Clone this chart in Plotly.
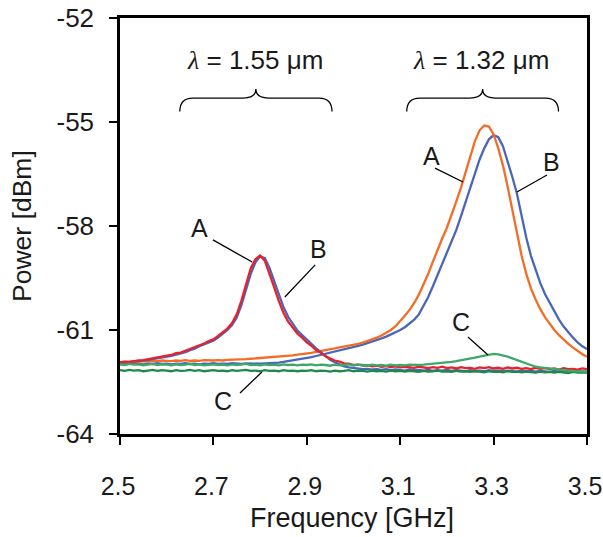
import plotly.graph_objects as go

# ---------------- data ----------------
freq_ghz = [
    2.50, 2.51, 2.52, 2.53, 2.54, 2.55, 2.56, 2.57, 2.58, 2.59,
    2.60, 2.61, 2.62, 2.63, 2.64, 2.65, 2.66, 2.67, 2.68, 2.69,
    2.70, 2.71, 2.72, 2.73, 2.74, 2.75, 2.76, 2.77, 2.78, 2.79,
    2.80, 2.81, 2.82, 2.83, 2.84, 2.85, 2.86, 2.87, 2.88, 2.89,
    2.90, 2.91, 2.92, 2.93, 2.94, 2.95, 2.96, 2.97, 2.98, 2.99,
    3.00, 3.01, 3.02, 3.03, 3.04, 3.05, 3.06, 3.07, 3.08, 3.09,
    3.10, 3.11, 3.12, 3.13, 3.14, 3.15, 3.16, 3.17, 3.18, 3.19,
    3.20, 3.21, 3.22, 3.23, 3.24, 3.25, 3.26, 3.27, 3.28, 3.29,
    3.30, 3.31, 3.32, 3.33, 3.34, 3.35, 3.36, 3.37, 3.38, 3.39,
    3.40, 3.41, 3.42, 3.43, 3.44, 3.45, 3.46, 3.47, 3.48, 3.49,
    3.50,
]

# lambda = 1.32 um, trace B (blue)
power_b_132 = [
    -61.99, -61.98, -61.99, -61.97, -61.98, -61.99, -61.97, -61.98, -61.96, -61.98,
    -61.97, -61.99, -61.97, -61.98, -61.96, -61.98, -61.97, -61.99, -61.97, -61.98,
    -61.96, -61.98, -61.97, -61.98, -61.96, -61.97, -61.98, -61.96, -61.97, -61.96,
    -61.97, -61.96, -61.96, -61.95, -61.94, -61.92, -61.90, -61.88, -61.86, -61.83,
    -61.80, -61.78, -61.75, -61.72, -61.68, -61.65, -61.62, -61.59, -61.55, -61.53,
    -61.50, -61.46, -61.42, -61.38, -61.34, -61.29, -61.24, -61.19, -61.13, -61.07,
    -61.00, -60.92, -60.82, -60.70, -60.55, -60.32, -60.05, -59.74, -59.42, -59.10,
    -58.80, -58.48, -58.12, -57.72, -57.32, -56.90, -56.46, -56.08, -55.76, -55.50,
    -55.38, -55.44, -55.70, -56.12, -56.58, -57.07, -57.75, -58.34, -58.86, -59.28,
    -59.65, -59.96, -60.22, -60.46, -60.70, -60.90, -61.07, -61.22, -61.36, -61.47,
    -61.55,
]

# lambda = 1.32 um, trace A (orange)
power_a_132 = [
    -61.94, -61.92, -61.93, -61.91, -61.92, -61.90, -61.91, -61.89, -61.90, -61.88,
    -61.89, -61.90, -61.88, -61.89, -61.87, -61.89, -61.88, -61.89, -61.87, -61.88,
    -61.88, -61.87, -61.88, -61.86, -61.86, -61.85, -61.84, -61.84, -61.83, -61.82,
    -61.82, -61.80, -61.80, -61.78, -61.78, -61.76, -61.75, -61.73, -61.71, -61.70,
    -61.68, -61.66, -61.63, -61.61, -61.58, -61.55, -61.53, -61.50, -61.48, -61.46,
    -61.43, -61.40, -61.36, -61.32, -61.27, -61.22, -61.16, -61.09, -61.00, -60.89,
    -60.75, -60.59, -60.42, -60.22, -59.98, -59.70, -59.38, -59.03, -58.68, -58.36,
    -58.05, -57.70, -57.30, -56.90, -56.47, -55.98, -55.55, -55.24, -55.10, -55.13,
    -55.36, -55.76, -56.25, -56.86, -57.55, -58.24, -58.86, -59.38, -59.80, -60.12,
    -60.40, -60.63, -60.82, -61.00, -61.15, -61.28, -61.40, -61.51, -61.61, -61.70,
    -61.77,
]

# lambda = 1.55 um, trace B (blue)
power_b_155 = [
    -61.95, -61.94, -61.92, -61.91, -61.90, -61.88, -61.87, -61.84, -61.82, -61.80,
    -61.76, -61.75, -61.71, -61.68, -61.64, -61.58, -61.54, -61.47, -61.42, -61.36,
    -61.31, -61.22, -61.11, -61.00, -60.86, -60.64, -60.28, -59.82, -59.38, -59.05,
    -58.88, -58.92, -59.20, -59.58, -59.98, -60.34, -60.62, -60.84, -61.02, -61.15,
    -61.28, -61.40, -61.53, -61.64, -61.76, -61.86, -61.93, -62.00, -62.05, -62.08,
    -62.10, -62.11, -62.13, -62.12, -62.14, -62.13, -62.15, -62.13, -62.16, -62.14,
    -62.15, -62.17, -62.14, -62.16, -62.15, -62.17, -62.15, -62.18, -62.16, -62.17,
    -62.15, -62.18, -62.16, -62.17, -62.19, -62.16, -62.18, -62.17, -62.19, -62.16,
    -62.18, -62.17, -62.19, -62.17, -62.18, -62.20, -62.17, -62.19, -62.18, -62.20,
    -62.18, -62.19, -62.21, -62.18, -62.20, -62.19, -62.21, -62.19, -62.20, -62.21,
    -62.20,
]

# lambda = 1.55 um, trace A (red)
power_a_155 = [
    -61.93, -61.91, -61.92, -61.89, -61.88, -61.87, -61.84, -61.83, -61.79, -61.77,
    -61.74, -61.72, -61.67, -61.65, -61.60, -61.54, -61.50, -61.43, -61.39, -61.32,
    -61.27, -61.17, -61.06, -60.96, -60.80, -60.55, -60.15, -59.66, -59.22, -58.96,
    -58.85, -59.00, -59.36, -59.76, -60.16, -60.50, -60.76, -60.94, -61.11, -61.22,
    -61.36, -61.46, -61.58, -61.66, -61.76, -61.82, -61.88, -61.91, -61.96, -61.97,
    -62.01, -62.00, -62.03, -62.02, -62.05, -62.03, -62.06, -62.04, -62.07, -62.05,
    -62.08, -62.06, -62.07, -62.09, -62.06, -62.08, -62.10, -62.07, -62.09, -62.06,
    -62.10, -62.08, -62.11, -62.07, -62.10, -62.09, -62.12, -62.08, -62.10, -62.07,
    -62.11, -62.09, -62.12, -62.08, -62.11, -62.09, -62.12, -62.10, -62.13, -62.09,
    -62.12, -62.10, -62.13, -62.11, -62.14, -62.10, -62.13, -62.12, -62.14, -62.11,
    -62.13,
]

# lambda = 1.55 um, trace C (dark green)
power_c_155 = [
    -62.16, -62.18, -62.15, -62.17, -62.16, -62.19, -62.17, -62.15, -62.18, -62.16,
    -62.17, -62.19, -62.16, -62.18, -62.17, -62.15, -62.18, -62.16, -62.19, -62.17,
    -62.16, -62.18, -62.17, -62.19, -62.16, -62.18, -62.17, -62.15, -62.18, -62.17,
    -62.19, -62.16, -62.18, -62.17, -62.19, -62.16, -62.18, -62.17, -62.19, -62.17,
    -62.18, -62.16, -62.19, -62.17, -62.18, -62.20, -62.17, -62.19, -62.18, -62.16,
    -62.19, -62.17, -62.18, -62.20, -62.17, -62.19, -62.18, -62.20, -62.17, -62.19,
    -62.18, -62.20, -62.18, -62.19, -62.21, -62.18, -62.20, -62.19, -62.17, -62.20,
    -62.19, -62.21, -62.18, -62.20, -62.19, -62.21, -62.19, -62.20, -62.22, -62.19,
    -62.21, -62.20, -62.22, -62.19, -62.21, -62.20, -62.22, -62.20, -62.21, -62.23,
    -62.20, -62.22, -62.21, -62.23, -62.21, -62.22, -62.24, -62.21, -62.23, -62.22,
    -62.23,
]

# lambda = 1.32 um, trace C (light green)
power_c_132 = [
    -61.99, -62.01, -61.98, -62.00, -61.99, -62.02, -62.00, -61.98, -62.01, -61.99,
    -62.00, -62.02, -61.99, -62.01, -62.00, -61.98, -62.01, -61.99, -62.02, -62.00,
    -61.99, -62.01, -62.00, -62.02, -61.99, -62.01, -62.00, -61.98, -62.01, -62.00,
    -62.02, -61.99, -62.01, -62.00, -62.02, -61.99, -62.01, -62.00, -62.02, -62.00,
    -62.01, -61.99, -62.02, -62.00, -62.01, -62.03, -62.00, -62.02, -62.01, -61.99,
    -62.02, -62.00, -62.01, -62.03, -62.00, -62.02, -62.01, -62.03, -62.00, -62.02,
    -62.01, -62.02, -62.00, -62.01, -62.01, -62.00, -61.99, -61.97, -61.96, -61.95,
    -61.93, -61.92, -61.90, -61.88, -61.86, -61.83, -61.80, -61.77, -61.74, -61.71,
    -61.69, -61.70, -61.73, -61.77, -61.82, -61.87, -61.92, -61.97, -62.02, -62.06,
    -62.08, -62.10, -62.12, -62.13, -62.15, -62.16, -62.17, -62.18, -62.19, -62.20,
    -62.21,
]

x_tick_vals = [2.5, 2.7, 2.9, 3.1, 3.3, 3.5]
x_tick_text = ["2.5", "2.7", "2.9", "3.1", "3.3", "3.5"]
y_tick_vals = [-64, -61, -58, -55, -52]
y_tick_text = ["-64", "-61", "-58", "-55", "-52"]

series = [
    ("B 1.32", power_b_132, "#4a66b8"),
    ("A 1.32", power_a_132, "#f46c25"),
    ("B 1.55", power_b_155, "#4a66b8"),
    ("A 1.55", power_a_155, "#e8222c"),
    ("C 1.55", power_c_155, "#1d8a48"),
    ("C 1.32", power_c_132, "#3ea86c"),
]

# ---------------- figure ----------------
FONT = "Liberation Sans, Arial, sans-serif"
TXT = "#1a1a1a"

fig = go.Figure()
for name, vals, col in series:
    fig.add_trace(go.Scatter(
        x=freq_ghz, y=vals, mode="lines", name=name,
        line=dict(color=col, width=2.3), showlegend=False,
    ))

# leader lines for the A / B / C labels (annotation positions in data units)
leaders = [
    (2.699, -58.40, 2.783, -59.04),
    (2.918, -59.12, 2.853, -60.05),
    (2.757, -62.82, 2.804, -62.21),
    (3.1745, -56.33, 3.2345, -56.73),
    (3.4143, -56.53, 3.350, -57.02),
    (3.245, -61.20, 3.288, -61.72),
]
for x0, y0, x1, y1 in leaders:
    fig.add_shape(type="line", xref="x", yref="y", x0=x0, y0=y0, x1=x1, y1=y1,
                  line=dict(color="black", width=1.3))

labels = [
    (2.671, -58.06, "A"),
    (2.926, -58.66, "B"),
    (2.7206, -63.05, "C"),
    (3.168, -55.98, "A"),
    (3.425, -56.15, "B"),
    (3.230, -60.77, "C"),
]
for x, y, t in labels:
    fig.add_annotation(x=x, y=y, xref="x", yref="y", text=t, showarrow=False,
                       font=dict(family=FONT, size=25, color=TXT),
                       xanchor="center", yanchor="middle")


def brace(x0, x1, xc, r, yb, yt, ytip):
    return (f"M {x0},{yb} Q {x0},{yt} {x0 + r},{yt} L {xc - r},{yt} "
            f"Q {xc},{yt} {xc},{ytip} Q {xc},{yt} {xc + r},{yt} "
            f"L {x1 - r},{yt} Q {x1},{yt} {x1},{yb}")


for bx0, bx1, bxc in [(2.628, 2.954, 2.791), (3.114, 3.439, 3.2765)]:
    fig.add_shape(type="path", xref="x", yref="y",
                  path=brace(bx0, bx1, bxc, 0.028, -54.70, -54.31, -54.05),
                  line=dict(color="black", width=1.3))

LAMBDA = "<span style=\"font-family:'Liberation Serif', serif\"><i>λ</i></span>"
for x, t in [(2.789, LAMBDA + " = 1.55 μm"), (3.272, LAMBDA + " = 1.32 μm")]:
    fig.add_annotation(x=x, y=-53.21, xref="x", yref="y", text=t, showarrow=False,
                       font=dict(family=FONT, size=26, color=TXT),
                       xanchor="center", yanchor="middle")

# axis titles
fig.add_annotation(x=-0.21, y=0.5, xref="paper", yref="paper", text="Power [dBm]",
                   textangle=-90, showarrow=False,
                   font=dict(family=FONT, size=26.5, color=TXT),
                   xanchor="center", yanchor="middle")
fig.add_annotation(x=0.497, y=-0.203, xref="paper", yref="paper", text="Frequency [GHz]",
                   showarrow=False, font=dict(family=FONT, size=27, color=TXT),
                   xanchor="center", yanchor="middle")

axis_common = dict(
    showgrid=False, zeroline=False, showline=True, linecolor="black", linewidth=2.5,
    mirror=True, ticks="outside", ticklen=8, tickwidth=2, tickcolor="black",
    ticklabeloverflow="allow",
)
fig.update_xaxes(range=[2.5, 3.5], tickmode="array", tickvals=x_tick_vals,
                 ticktext=x_tick_text, ticklabelstandoff=20, ticklabelshift=-2,
                 tickfont=dict(family=FONT, size=25, color=TXT), **axis_common)
fig.update_yaxes(range=[-64, -52], tickmode="array", tickvals=y_tick_vals,
                 ticktext=y_tick_text, ticklabelstandoff=10,
                 tickfont=dict(family=FONT, size=26, color=TXT), **axis_common)

fig.update_layout(
    width=603, height=537,
    margin=dict(l=120, r=16, t=18, b=103, autoexpand=False),
    paper_bgcolor="white", plot_bgcolor="white",
    font=dict(family=FONT, color=TXT),
)

# remove the default 8 px body margin so the figure fills the window exactly
fig.write_html("out.html", config={"displayModeBar": False},
               post_script="document.body.style.margin='0';")
